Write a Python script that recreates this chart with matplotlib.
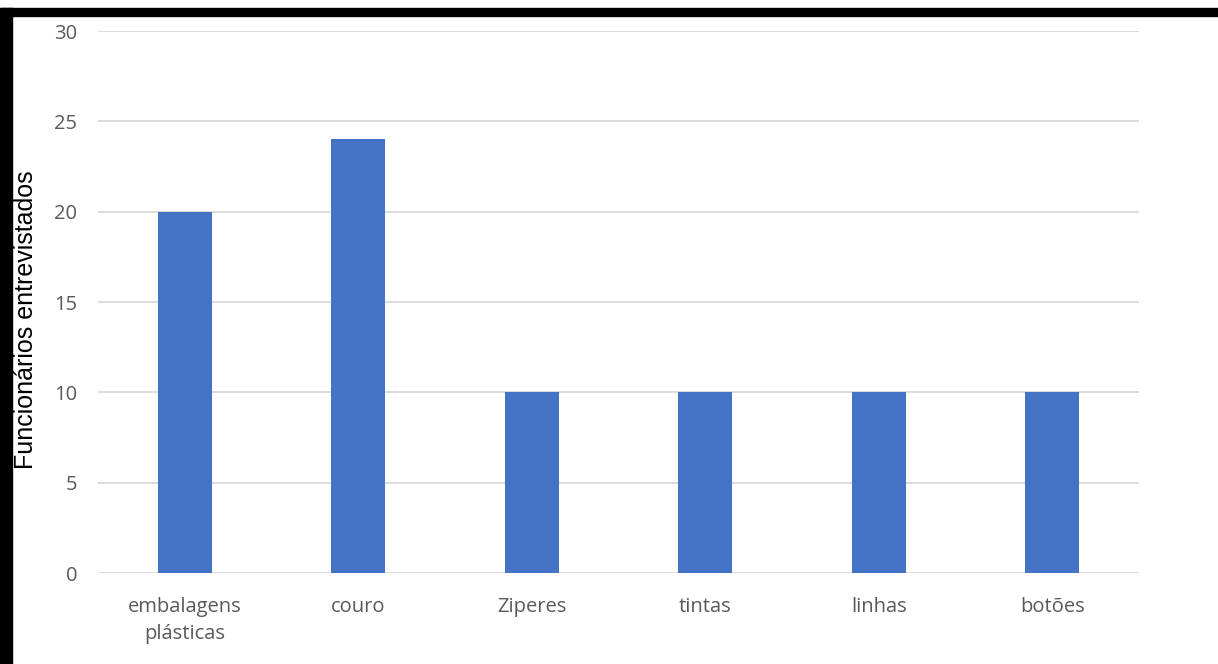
import matplotlib.pyplot as plt
from matplotlib.patches import Rectangle

categorias = ["embalagens\nplásticas", "couro", "Ziperes", "tintas", "linhas", "botões"]
funcionarios = [20, 24, 10, 10, 10, 10]
yticks = [0, 5, 10, 15, 20, 25, 30]

fig = plt.figure(figsize=(12.18, 6.64), dpi=100)
ax = fig.add_axes([0.0805, 0.137, 0.8546, 0.8163])

ax.bar(range(len(categorias)), funcionarios, width=0.31, color="#4472C4", zorder=3)

ax.set_xlim(-0.5, len(categorias) - 0.5)
ax.set_ylim(0, 30)
ax.set_yticks(yticks)
ax.set_xticks(range(len(categorias)))
ax.set_xticklabels(categorias, fontsize=14.5, color="#595959", family="Open Sans",
                   linespacing=1.5)
ax.set_yticklabels([str(v) for v in yticks], fontsize=14.5, color="#595959", family="Open Sans")
ax.tick_params(axis="both", length=0)
ax.tick_params(axis="y", pad=15)
ax.tick_params(axis="x", pad=17)

ax.grid(axis="y", color="#D9D9D9", linewidth=1.3, zorder=0)
for s in ax.spines.values():
    s.set_visible(False)

fig.text(26 / 1218, 1 - 320 / 664, "Funcionários entrevistados", rotation=90,
         ha="center", va="center", fontsize=18, family="Liberation Sans", color="black")

# moldura preta do quadro
fig.patches.append(Rectangle((0, 1 - 16 / 664), 1, 8 / 664, transform=fig.transFigure,
                             color="black", zorder=10))
fig.patches.append(Rectangle((0, 0), 12 / 1218, 1 - 8 / 664, transform=fig.transFigure,
                             color="black", zorder=10))

fig.savefig("out.png", dpi=100)
